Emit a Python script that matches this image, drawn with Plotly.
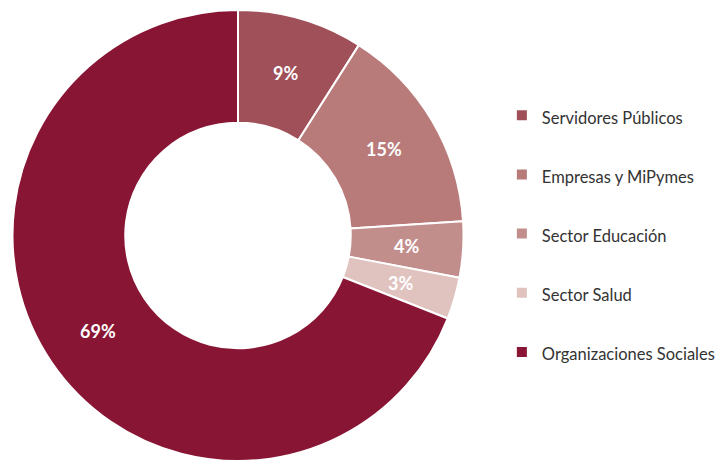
import math
import plotly.graph_objects as go

categories = ["Servidores Públicos", "Empresas y MiPymes", "Sector Educación",
              "Sector Salud", "Organizaciones Sociales"]
shares = [9, 15, 4, 3, 69]
colors = ["#A05058", "#B87B7A", "#C28E8C", "#E0C3BF", "#891534"]

W, H = 719, 461
HOLE = 0.5
DOM_X = [12 / W, 464 / W]
DOM_Y = [0, 1 - 10 / H]

# the legend font size sets the row pitch; the visible name uses a smaller span,
# and a trailing blank line widens the gap between rows
legend_labels = [f"<span style='font-size:16.5px'>{c}</span><br>&nbsp;" for c in categories]

font_family = "Lato, Roboto, sans-serif"

fig = go.Figure(go.Pie(
    labels=legend_labels,
    values=shares,
    sort=False,
    direction="clockwise",
    rotation=0,
    hole=HOLE,
    marker=dict(colors=colors, line=dict(color="white", width=2)),
    textinfo="none",
    domain=dict(x=DOM_X, y=DOM_Y),
    hoverinfo="skip",
))

# percentage labels centred on each ring segment, angles taken from the shares
cx_px = (DOM_X[0] + DOM_X[1]) / 2 * W
cy_px = (1 - (DOM_Y[0] + DOM_Y[1]) / 2) * H
r_px = min((DOM_X[1] - DOM_X[0]) * W, (DOM_Y[1] - DOM_Y[0]) * H) / 2
r_mid = r_px * (1 + HOLE) / 2
total = sum(shares)
cum = 0
for v in shares:
    ang = 2 * math.pi * (cum + v / 2) / total
    cum += v
    px = cx_px + r_mid * math.sin(ang)
    py = cy_px - r_mid * math.cos(ang)
    fig.add_annotation(
        x=px / W, y=1 - py / H, xref="paper", yref="paper",
        xanchor="center", yanchor="middle",
        text=f"<b>{v}%</b>", showarrow=False,
        font=dict(color="white", size=18, family=font_family),
    )

fig.update_layout(
    width=W, height=H,
    margin=dict(l=0, r=0, t=0, b=0, autoexpand=False),
    paper_bgcolor="white",
    showlegend=True,
    legend=dict(
        x=0.698, xanchor="left", y=0.4626, yanchor="middle",
        font=dict(size=21.6, color="#333333", family=font_family),
        itemwidth=30, valign="top", tracegroupgap=0,
    ),
)

fig.write_html("out.html")
